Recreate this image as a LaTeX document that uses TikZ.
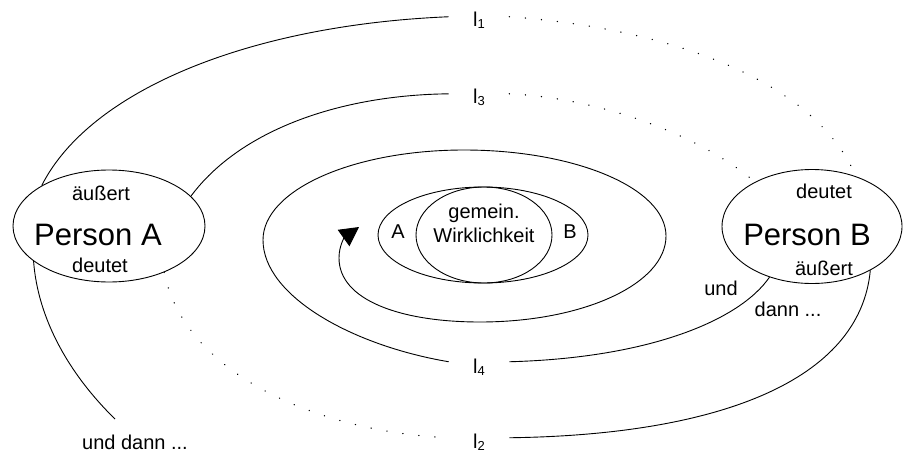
\documentclass[tikz,border=0pt]{standalone}
\usepackage{fontspec}
\setmainfont{Liberation Sans}
\usetikzlibrary{shapes.geometric,arrows.meta}
\begin{document}
\begin{tikzpicture}[x=1pt,y=-1pt,line width=0.9pt,line join=round,
	lbl/.style={font=\fontsize{20}{22}\selectfont,inner sep=0pt,anchor=base},
	big/.style={font=\fontsize{31}{34}\selectfont,inner sep=0pt,anchor=base},
	pers/.style={ellipse,draw,inner sep=0pt},
	ebene/.style={lbl,inner xsep=24pt,inner ysep=0pt},
	dots/.style={line cap=round,dash pattern=on 0.1pt off 16pt,line width=1.4pt}]
			\useasboundingbox (0,0) rectangle (904,452);
			\node[pers,minimum width=192pt,minimum height=112pt] (persA) at (109,226) {};
			\node[pers,minimum width=180pt,minimum height=114pt] (persB) at (812,226.5) {};
			\node[pers,minimum width=210pt,minimum height=96pt] (rwAB) at (483,235) {};
			\node[pers,minimum width=136pt,minimum height=96pt] (rwG) at (484,235) {};
			\node[lbl] (aeussA) at (101,200) {äußert};
			\node[big] (nameA) at (98,245) {Person A};
			\node[lbl] (deutA) at (100,272) {deutet};
			\node[lbl] (deutB) at (824,198) {deutet};
			\node[big] (nameB) at (807,245) {Person B};
			\node[lbl] (aeussB) at (824,275) {äußert};
			\node[lbl] (undB) at (721,295) {und};
			\node[lbl] (dannB) at (788,316) {dann ...};
			\node[lbl] (undA) at (135,449) {und dann ...};
			\node[lbl] (gem) at (484,218) {gemein.};
			\node[lbl] (wirk) at (484,242) {Wirklichkeit};
			\node[lbl] (rwA) at (398,238) {A};
			\node[lbl] (rwB) at (570,238) {B};
			\foreach \i/\y in {1/27,2/448,3/103,4/373}
				\node[ebene] (l\i) at (479,\y) {l\raisebox{-2pt}{\fontsize{13}{13}\selectfont\i}};
			\coordinate (endA) at (115,419);
			\draw (persA.149) .. controls (90,90) and (250,25) .. ([yshift=4pt]l1.west);
			\draw (persA.20) .. controls (240,130) and (340,95) .. ([yshift=3pt]l3.west);
			\draw (persA.205) .. controls (38,320) and (70,375) .. (endA);
			\draw[-{Triangle[length=19pt,width=20pt]}] ([yshift=5pt]l4.west) .. controls (350,345) and (263,295) .. (263,240)
				.. controls (263,190) and (353,150) .. (464,150) .. controls (575,150) and (666,188) .. (666,236)
				.. controls (666,284) and (583,322) .. (480,322) .. controls (400,322) and (339,300) .. (339,258)
				.. controls (339,245) and (345,237) .. (359,227);
			\draw ([yshift=5pt]l4.east) .. controls (650,358) and (740,320) .. (persB.230);
			\draw ([yshift=4pt]l2.east) .. controls (720,435) and (860,380) .. (persB.323);
			\draw[dots] ([yshift=4pt]l1.east) .. controls (690,30) and (820,90) .. (persB.49);
			\draw[dots] ([yshift=3pt]l3.east) .. controls (600,98) and (700,135) .. (persB.142);
			\draw[dots] (persA.320) .. controls (185,375) and (320,432) .. ([yshift=4pt]l2.west);
	\end{tikzpicture}
\end{document}
